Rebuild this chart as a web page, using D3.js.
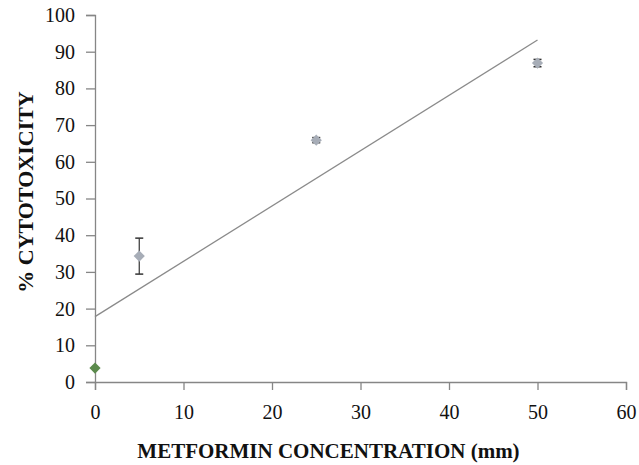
<!DOCTYPE html>
<html>
<head>
<meta charset="utf-8">
<script src="https://cdn.jsdelivr.net/npm/d3@7"></script>
<style>
  body { margin: 0; background: #fff; }
  svg text { font-family: "Liberation Serif", "Times New Roman", serif; fill: #111; }
</style>
</head>
<body>
<svg width="639" height="465"></svg>
<script>
const width = 639;
const height = 465;
const margin = { left: 95, right: 13, top: 15, bottom: 83 };

const concentrations = [0, 5, 25, 50];
const cytotoxicity = [3.8, 34.3, 65.9, 86.9];
const errors = [0, 4.9, 0.7, 1.0];
const pointColors = ["#5b8a4c", "#a7adb7", "#a7adb7", "#a7adb7"];
const trendX = [0, 50];
const trendY = [17.8, 93.2];
const xTicks = [0, 10, 20, 30, 40, 50, 60];
const yTicks = [0, 10, 20, 30, 40, 50, 60, 70, 80, 90, 100];

const svg = d3.select("svg");

const xScale = d3.scaleLinear().domain([0, 60]).range([margin.left, width - margin.right]);
const yScale = d3.scaleLinear().domain([0, 100]).range([height - margin.bottom, margin.top]);

const axisColor = "#868686";

// x axis
const gx = svg.append("g")
  .attr("transform", `translate(0,${yScale(0)})`)
  .call(d3.axisBottom(xScale).tickValues(xTicks).tickSize(8).tickPadding(15).tickFormat(d3.format("d")));
gx.select(".domain").attr("stroke", axisColor).attr("stroke-width", 1.3);
gx.selectAll(".tick line").attr("stroke", axisColor).attr("stroke-width", 1.3);
gx.selectAll(".tick text").attr("font-size", 20).attr("font-family", "Liberation Serif").attr("fill", "#111");

// y axis
const gy = svg.append("g")
  .attr("transform", `translate(${xScale(0)},0)`)
  .call(d3.axisLeft(yScale).tickValues(yTicks).tickSize(9).tickPadding(11).tickFormat(d3.format("d")));
gy.select(".domain").attr("stroke", axisColor).attr("stroke-width", 1.3);
gy.selectAll(".tick line").attr("stroke", axisColor).attr("stroke-width", 1.3);
gy.selectAll(".tick text").attr("font-size", 20).attr("font-family", "Liberation Serif").attr("fill", "#111");

// trend line
svg.append("line")
  .attr("x1", xScale(trendX[0])).attr("y1", yScale(trendY[0]))
  .attr("x2", xScale(trendX[1])).attr("y2", yScale(trendY[1]))
  .attr("stroke", "#8a8a8a")
  .attr("stroke-width", 1.3);

const pts = concentrations.map((c, i) => ({ x: c, y: cytotoxicity[i], e: errors[i], color: pointColors[i] }));

// error bars
const eb = svg.append("g").selectAll("g").data(pts.filter(d => d.e > 0)).join("g");
eb.append("line")
  .attr("x1", d => xScale(d.x)).attr("x2", d => xScale(d.x))
  .attr("y1", d => yScale(d.y - d.e)).attr("y2", d => yScale(d.y + d.e))
  .attr("stroke", "#333").attr("stroke-width", 1.2);
eb.selectAll(".cap").data(d => [d.y - d.e, d.y + d.e].map(v => ({ x: d.x, v })))
  .join("line")
  .attr("x1", d => xScale(d.x) - 4).attr("x2", d => xScale(d.x) + 4)
  .attr("y1", d => yScale(d.v)).attr("y2", d => yScale(d.v))
  .attr("stroke", "#333").attr("stroke-width", 1.5);

// markers
svg.append("g").selectAll("path").data(pts).join("path")
  .attr("d", d3.symbol().type(d3.symbolDiamond2).size(80))
  .attr("transform", d => `translate(${xScale(d.x)},${yScale(d.y)})`)
  .attr("fill", d => d.color);

// axis titles
svg.append("text")
  .attr("x", (xScale(0) + xScale(60)) / 2 - 32)
  .attr("y", 458)
  .attr("text-anchor", "middle")
  .attr("font-size", 21)
  .attr("font-weight", "bold")
  .text("METFORMIN CONCENTRATION (mm)");

svg.append("text")
  .attr("transform", `translate(33,192) rotate(-90)`)
  .attr("text-anchor", "middle")
  .attr("font-size", 22)
  .attr("font-weight", "bold")
  .text("% CYTOTOXICITY");
</script>
</body>
</html>
